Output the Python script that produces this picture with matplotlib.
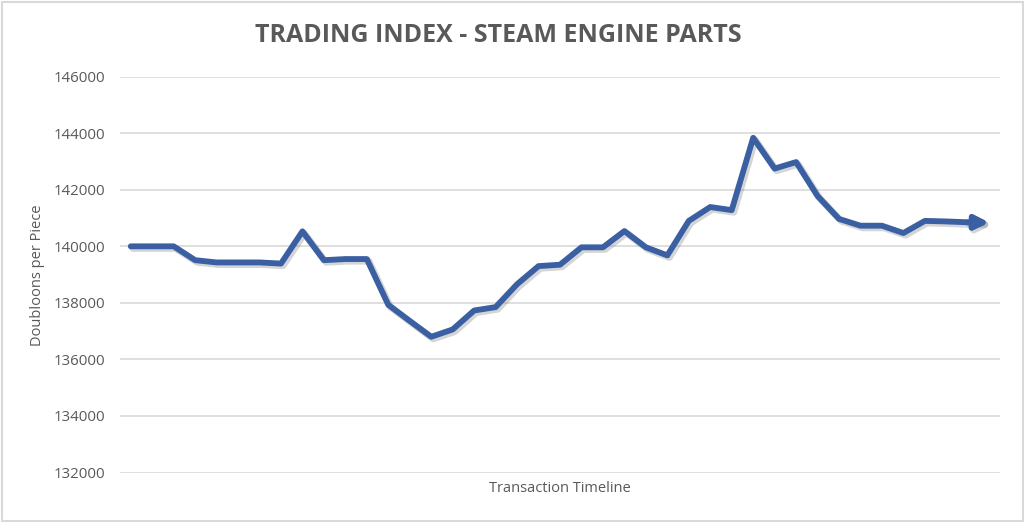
import matplotlib
matplotlib.use("Agg")
import matplotlib.pyplot as plt
import matplotlib.patheffects as pe
from matplotlib.patches import FancyArrowPatch, Rectangle
import numpy as np

# ---- data ----
prices = [140000, 140000, 140000, 139510, 139430, 139430, 139430, 139390, 140530, 139510,
          139550, 139550, 137930, 137360, 136800, 137060, 137730, 137850, 138660, 139300,
          139350, 139965, 139965, 140540, 139965, 139680, 140900, 141390, 141280, 143840,
          142750, 142980, 141780, 140970, 140730, 140730, 140470, 140900, 140880, 140850,
          140840]
y_ticks = [132000, 134000, 136000, 138000, 140000, 142000, 144000, 146000]
title = "TRADING INDEX - STEAM ENGINE PARTS"
x_label = "Transaction Timeline"
y_label = "Doubloons per Piece"

plt.rcParams['font.family'] = ['Open Sans', 'DejaVu Sans']

W, H = 1024, 522
fig = plt.figure(figsize=(W/100, H/100), dpi=100)
fig.patch.set_facecolor('white')

# border
fig.patches.append(Rectangle((1.5/W, 1.5/H), 1 - 3/W, 1 - 3/H, transform=fig.transFigure,
                             fill=False, edgecolor='#d9d9d9', linewidth=1.5))

left, right = 120/W, 1000/W
top, bottom = 1 - 76.7/H, 1 - 472.5/H
ax = fig.add_axes([left, bottom, right-left, top-bottom])

n = len(prices)
x = np.arange(n)
ax.set_xlim(-0.5, n - 0.5)
ax.set_ylim(132000, 146000)
ax.set_yticks(y_ticks)
ax.set_yticklabels([str(v) for v in y_ticks])
ax.set_xticks([])
ax.grid(axis='y', color='#d9d9d9', linewidth=1.2)
ax.set_axisbelow(True)
for s in ax.spines.values():
    s.set_visible(False)
ax.tick_params(axis='y', length=0, pad=10.5, labelsize=10.8, labelcolor='#595959')

line_color = '#3a5fa3'
shadow = [pe.SimpleLineShadow(offset=(1.5, -1.5), shadow_color='#888888', alpha=0.35, linewidth=5),
          pe.Normal()]
ax.plot(x[:-1], prices[:-1], color=line_color, linewidth=4.2, solid_joinstyle='round',
        solid_capstyle='round', path_effects=shadow, zorder=3)
arr = FancyArrowPatch((x[-2], prices[-2]), (x[-1], prices[-1]), arrowstyle='-|>',
                      mutation_scale=20, color=line_color, linewidth=4.2, shrinkA=0, shrinkB=0,
                      zorder=3, path_effects=shadow)
ax.add_patch(arr)

fig.text(498/W, 1 - 35/H, title, ha='center', va='center', fontsize=18,
         fontweight='bold', color='#595959')
fig.text((left+right)/2, 1 - 488/H, x_label, ha='center', va='center', fontsize=10.5,
         color='#595959')
fig.text(38/W, 1 - 275/H, y_label, ha='center', va='center', rotation=90, fontsize=10.5,
         color='#595959')

fig.savefig('out.png', dpi=100, facecolor='white')
